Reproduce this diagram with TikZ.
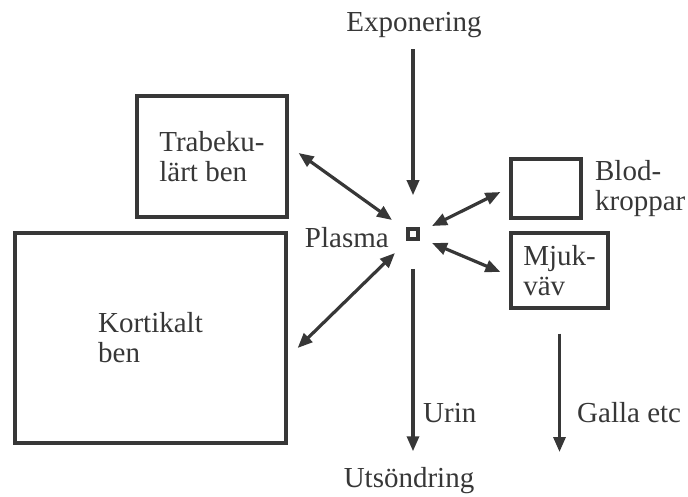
\documentclass[tikz,border=0pt]{standalone}
\usepackage{fontspec}
\setmainfont{Liberation Serif}
\usetikzlibrary{arrows.meta,positioning}
\definecolor{inkGray}{RGB}{55,55,55}

\begin{document}
\begin{tikzpicture}[x=1pt, y=-1pt, font=\fontsize{29}{30}\selectfont, text=inkGray,
    box/.style={draw=inkGray, line width=3.2pt, align=left},
    arr/.style={-{Triangle[length=15pt,width=12pt]}, draw=inkGray, line width=3.2pt},
    dbl/.style={{Triangle[length=15pt,width=12pt]}-{Triangle[length=15pt,width=12pt]}, draw=inkGray, line width=3.2pt}]
    \useasboundingbox (0,0) rectangle (688,497);
    % compartments
    \node[draw=inkGray, line width=3.5pt, minimum size=10pt, inner sep=0pt] (plasma) at (413,234) {};
    \node[left=14pt of plasma, yshift=-4pt] (plasmaLbl) {Plasma};
    \node (expo) at (414,25) {Exponering};
    \node (utsond) at (409,481) {Utsöndring};
    \node[box, minimum width=150pt, minimum height=121pt] (trab) at (212,156.5) {Trabeku-\\lärt ben};
    \node[box, minimum width=271pt, minimum height=210pt] (kort) at (150.5,338) {Kortikalt\\ben};
    \node[box, minimum width=70pt, minimum height=59pt] (blod) at (546,188.5) {};
    \node[right=9pt of blod, align=left] (blodLbl) {Blod-\\kroppar};
    \node[box, minimum width=97pt, minimum height=75pt] (mjuk) at (559.5,270.5) {Mjuk-\\väv};
    \coordinate (gallaEnd) at (559.5,452);
    % exchange with plasma
    \draw[dbl] ([shift={(10,-3.5)}]trab.east) -- ([shift={(-21,-14)}]plasma.center);
    \draw[dbl] ([shift={(10,10)}]kort.east) -- ([shift={(-18,19)}]plasma.center);
    \draw[dbl] ([shift={(-9,3.5)}]blod.west) -- ([shift={(19,-8)}]plasma.center);
    \draw[dbl] ([shift={(-9,1.5)}]mjuk.west) -- ([shift={(19,9)}]plasma.center);
    % intake and excretion
    \draw[arr, shorten <=8pt, shorten >=32pt] (expo.south -| plasma) -- (plasma.north);
    \draw[arr, shorten <=28pt, shorten >=13pt] (plasma.south) -- (utsond.north -| plasma);
    \draw[arr, shorten <=24pt] (mjuk.south) -- (gallaEnd);
    \node[anchor=base west, inner sep=0pt] (urin) at (423,422) {Urin};
    \node[anchor=base west, inner sep=0pt] (galla) at (577,422) {Galla etc};
\end{tikzpicture}
\end{document}
